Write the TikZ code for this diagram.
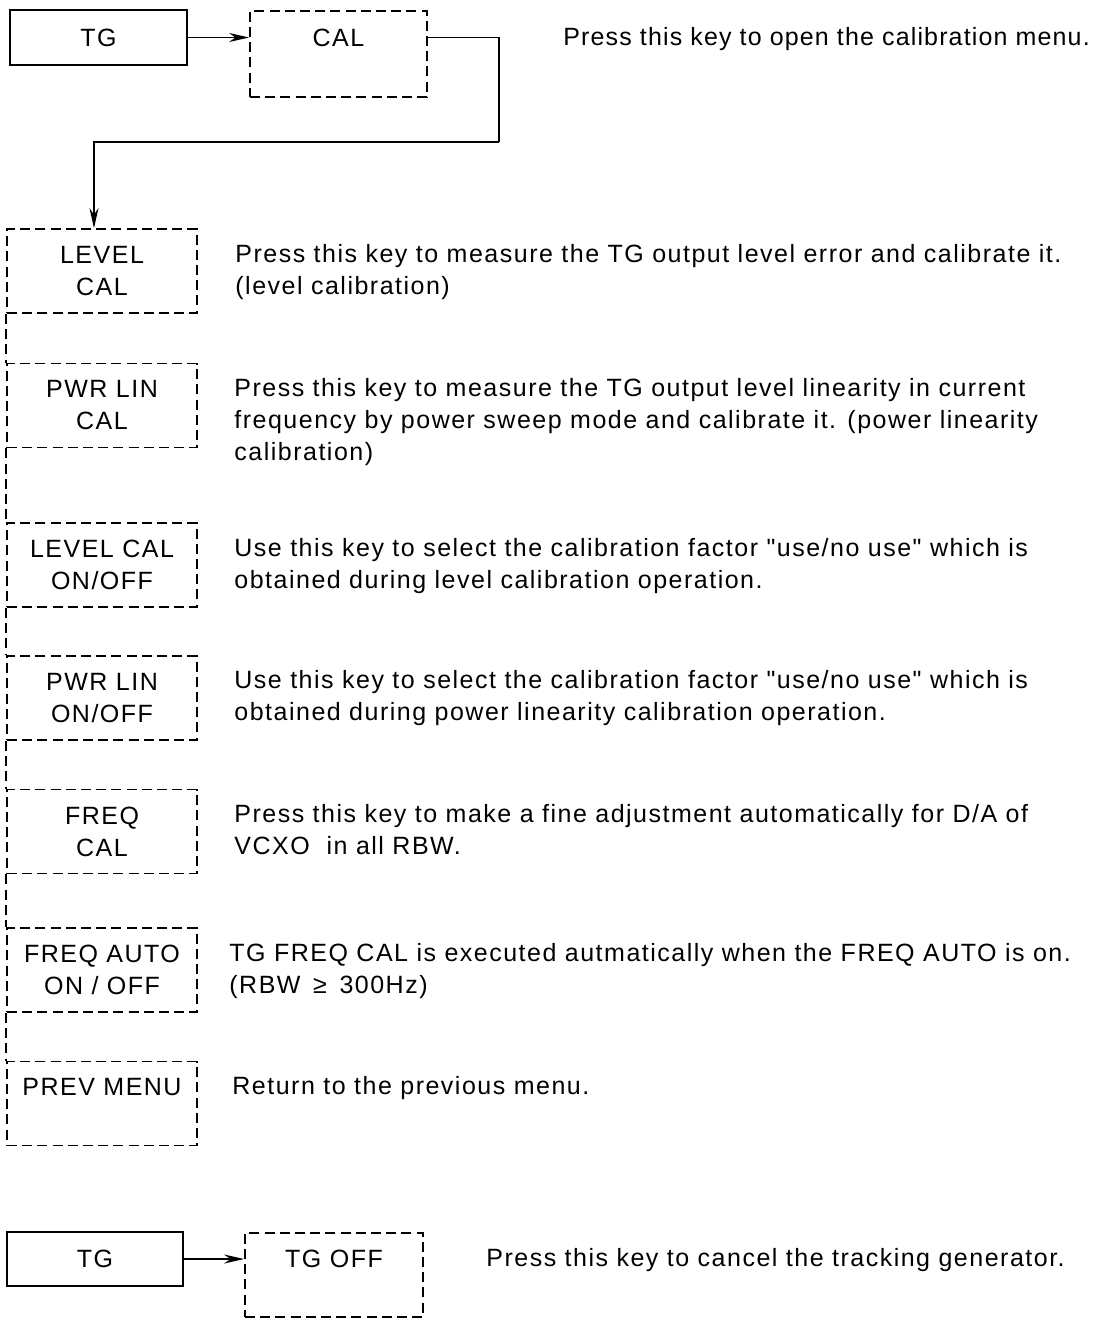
\documentclass[tikz,border=0pt]{standalone}
\usepackage{fontspec}
\setmainfont{Liberation Sans}[Ligatures=TeXOff, LetterSpace=6.0]
\usetikzlibrary{arrows.meta, positioning, calc}

\begin{document}
\begin{tikzpicture}[
    x=0.5pt, y=-0.5pt,
    font=\fontsize{12.5}{16}\selectfont,
    hardkey/.style={rectangle, draw=black, line width=1.1pt, inner sep=0pt,
                minimum height=27.5pt, minimum width=88.5pt, align=center},
    softkey/.style={rectangle, draw=black, line width=0.9pt, inner sep=0pt,
                dash pattern=on 5pt off 2.6pt,
                minimum height=42pt, minimum width=95pt, align=center},
    link/.style={draw=black, line width=0.9pt, dash pattern=on 5pt off 2.6pt},
    desc/.style={anchor=base west, align=left, inner sep=0pt},
    arrow/.style={-{Stealth[length=10pt, width=4.5pt]}, line width=0.8pt},
]
\useasboundingbox (0,0) rectangle (1098,1318);

% TG -> CAL
\node[hardkey] (tg1) at (98.5,37.5) {TG};
\node[softkey, minimum width=88.5pt, minimum height=43pt] (cal) at (338.5,54) {CAL\\\phantom{CAL}};
\node[desc] (caltxt) at (563,45) {\addfontfeatures{LetterSpace=4.6}Press this key to open the calibration menu.};

% calibration menu
\node[softkey] (lvl)   at (102,271)   {LEVEL\\CAL};
\node[softkey] (pwr)   at (102,405.5) {PWR LIN\\CAL};
\node[softkey] (lvlon) at (102,565)   {LEVEL CAL\\ON/OFF};
\node[softkey] (pwron) at (102,698)   {PWR LIN\\ON/OFF};
\node[softkey] (frq)   at (102,831.5) {FREQ\\CAL};
\node[softkey] (frqau) at (102,970)   {FREQ AUTO\\ON / OFF};
\node[softkey] (prev)  at (102,1103.5) {PREV MENU\\\phantom{MENU}};

% base of a multi-line text is its last line
\node[desc] (lvltxt) at (235,294) {Press this key to measure the TG output level error and calibrate it.\\(level calibration)};
\node[desc] (pwrtxt) at (234,460) {Press this key to measure the TG output level linearity in current\\frequency by power sweep mode and calibrate it. (power linearity\\calibration)};
\node[desc] (lvlontxt) at (234,588) {Use this key to select the calibration factor "use/no use" which is\\obtained during level calibration operation.};
\node[desc] (pwrontxt) at (234,720) {Use this key to select the calibration factor "use/no use" which is\\obtained during power linearity calibration operation.};
\node[desc] (frqtxt) at (234,854) {Press this key to make a fine adjustment automatically for D/A of\\VCXO\ \ in all RBW.};
\node[desc] (frqautxt) at (229,993) {TG FREQ CAL is executed autmatically when the FREQ AUTO is on.\\(RBW\ \,≥\ \,300Hz)};
\node[desc] (prevtxt) at (232,1094) {Return to the previous menu.};

% TG -> TG OFF
\node[hardkey, minimum width=88pt, minimum height=27pt] (tg2) at (95,1259) {TG};
\node[softkey, minimum width=89pt] (tgoff) at (334,1275) {TG OFF\\\phantom{TG}};
\node[desc] (tgofftxt) at (486,1266) {Press this key to cancel the tracking generator.};

% connectors
\coordinate (bend) at (499,142);
\draw[arrow] (tg1.east) -- (tg1.east -| cal.west);
\draw[line width=0.8pt] (tg1.east -| cal.east) -| (bend);
\draw[arrow] (bend) -| ([xshift=-4pt]lvl.north);
\foreach \a/\b in {lvl/pwr, pwr/lvlon, lvlon/pwron, pwron/frq, frq/frqau, frqau/prev}
    \draw[link] (\a.south west) -- (\b.north west);
\draw[arrow] (tg2.east) -- (tg2.east -| tgoff.west);
\end{tikzpicture}
\end{document}
